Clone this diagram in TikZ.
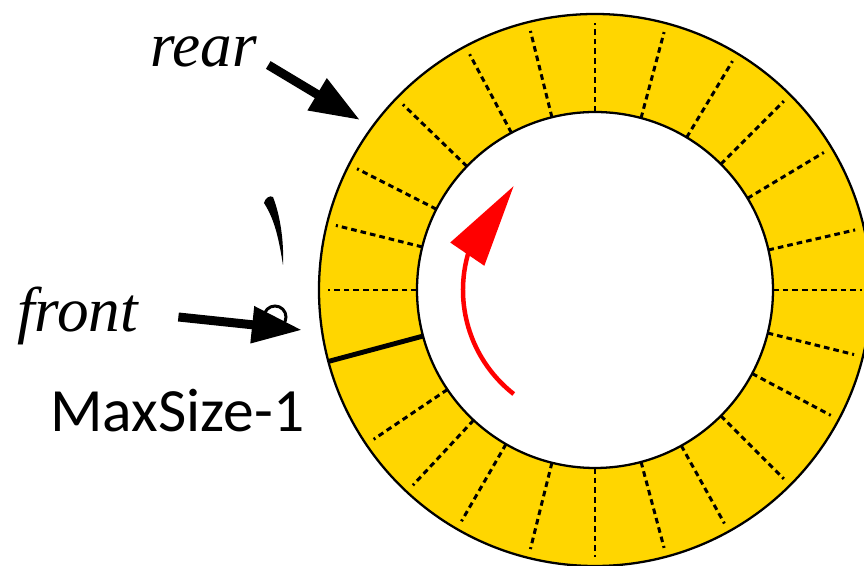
\documentclass[tikz,border=0pt]{standalone}
\usepackage{fontspec}
\setmainfont{Liberation Serif}
\newfontfamily\sizefont{Carlito}
\usetikzlibrary{arrows.meta,bending,calc}
\definecolor{slotgold}{RGB}{255,214,0}

\begin{document}
\begin{tikzpicture}[
  pointer/.style={-{Triangle[length=1.0cm,width=0.7cm]},line width=0.18cm},
  turn/.style={-{Triangle[length=1.65cm,width=0.8cm]},line width=0.09cm,red},
  slot/.style={dash pattern=on 3.2pt off 2.3pt,line width=1.7pt},
  tag/.style={inner sep=0pt,anchor=base west,font=\rmfamily\itshape\fontsize{36}{40}\selectfont}]
\clip (-11.9,-5.52) rectangle (5.38,5.8);
% ring of slots
\fill[slotgold,even odd rule] (0,0) circle (5.52) (0,0) circle (3.56);
\foreach \a in {0,13,31,45,59,75,90,104,118,136,153,166,180,214,227,240,256,270,285,299,315,332,346}
  \draw[slot] (\a:3.56) -- (\a:5.34);
\draw[line width=2.8pt] (195:3.56) -- (195:5.52);
\draw[line width=1.3pt] (0,0) circle (5.52) (0,0) circle (3.56);
\draw[turn] (232:2.64) arc[start angle=232,end angle=128,radius=2.64];
% labels
\node[tag] (rear) at (-8.9,4.46) {rear};
\node[tag] (front) at (-11.56,-0.84) {front};
\node[inner sep=0pt,anchor=base west,font=\sizefont\fontsize{35}{40}\selectfont] (maxsize) at (-10.9,-2.84) {MaxSize-1};
\coordinate (rearhit) at (-4.7,3.4);
\coordinate (fronthit) at (-5.86,-0.8);
% stray marks
\fill (-6.62,1.74) .. controls (-6.6,1.84) and (-6.5,1.9) .. (-6.44,1.86) .. controls (-6.3,1.5) and (-6.22,1.0) .. (-6.24,0.5) .. controls (-6.32,1.0) and (-6.4,1.4) .. (-6.62,1.74) -- cycle;
\draw[line width=1.7pt] (-6.4,-0.54) circle (0.22);
\draw[pointer] ($(rear.base east)+(0.22,0.04)$) -- (rearhit);
\draw[pointer] ($(front.base east)+(0.8,0.3)$) -- (fronthit);
\end{tikzpicture}
\end{document}
